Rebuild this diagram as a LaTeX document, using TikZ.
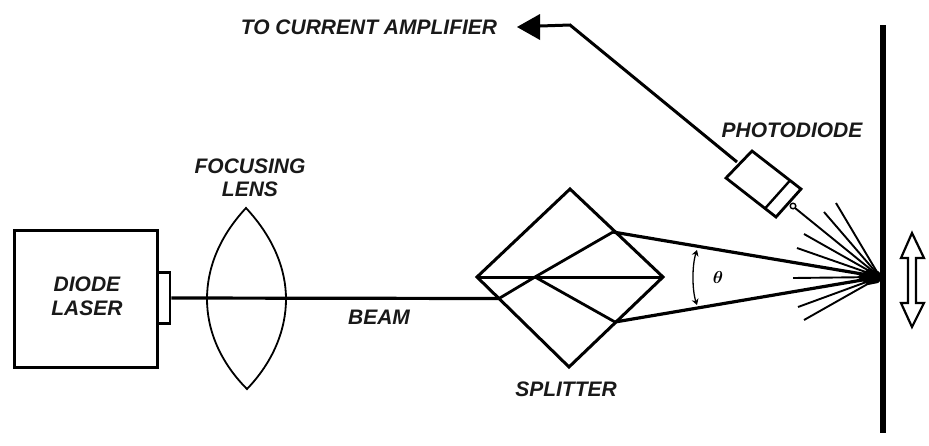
\documentclass[tikz,border=0pt]{standalone}
\usepackage{amsmath}
\usepackage{fontspec}
\setmainfont{Liberation Sans}
\usetikzlibrary{arrows.meta}
\tikzset{
  lbl/.style={font=\fontsize{21}{21}\selectfont\bfseries\itshape,align=center,inner sep=0pt,text=black!90},
  heavy/.style={line width=3pt,line join=miter},
  beamline/.style={line width=3.2pt},
  thin ray/.style={line width=1.9pt},
  lensline/.style={line width=1.8pt},
  tick/.style={line width=1.3pt,{Stealth[length=6pt,width=7pt]}-{Stealth[length=6pt,width=7pt]}}
}
\begin{document}
\begin{tikzpicture}[x=1pt,y=-1pt]
\useasboundingbox (0,0) rectangle (929,445);
% coordinates
\coordinate (hub) at (880,277);
\coordinate (spl) at (477,277);
\coordinate (spt) at (570,189);
\coordinate (spr) at (663,277);
\coordinate (spb) at (569,367);
\coordinate (entry) at (499,298.5);
\coordinate (cross) at (535,277);
\coordinate (outA) at (613,232);
\coordinate (outB) at (615,322);
% laser
\node[draw,heavy,minimum width=143pt,minimum height=137pt,inner sep=0pt] (laser) at (85.5,298.5) {};
\node[draw,line width=2.6pt,minimum width=13pt,minimum height=51pt,inner sep=0pt] (aperture) at (163.5,298) {};
\node[lbl] at (87,296) {DIODE\\[3pt]LASER};
% lens
\coordinate (lt) at (246,208);
\coordinate (lb) at (247,389);
\draw[lensline] (lt) .. controls (218,238) and (207,270) .. (207,299) .. controls (207,330) and (220,362) .. (lb)
  .. controls (273,362) and (286,330) .. (286,299) .. controls (286,270) and (274,238) .. (lt) -- cycle;
\node[lbl] at (250,178) {FOCUSING\\[2pt]LENS};
% beam
\draw[beamline] (aperture.east) -- (entry);
\node[lbl] at (379,317) {BEAM};
% splitter
\draw[line width=3pt,line join=miter] (spl) -- (spt) -- (spr) -- (spb) -- cycle;
\draw[line width=3pt] (spl) -- (spr);
\draw[line width=2.8pt] (entry) -- (cross) -- (outA);
\draw[line width=2.8pt] (cross) -- (outB);
\node[lbl] at (566,389) {SPLITTER};
% beams to mirror
\draw[beamline] (outA) -- (hub);
\draw[beamline] (outB) -- (hub);
% scatter rays
\foreach \n/\p in {a/{836,203},b/{824,212},c/{804,234},d/{797,248},e/{793,278},f/{798,307},g/{804,320}}{
  \coordinate (r\n) at (\p);
  \draw[thin ray] (r\n) -- (hub);
}
\coordinate (rp) at (795,208);
\draw[thin ray] (rp) -- (hub);
\fill (857,277) -- (868,269) -- (878,271) -- (884,277) -- (878,283) -- (868,285) -- cycle;
% mirror
\coordinate (mt) at (883,25);
\coordinate (mb) at (883,433);
\draw[line width=5.5pt] (mt) -- (mb);
% photodiode
\coordinate (pa) at (752,151);
\coordinate (pb) at (801,189);
\coordinate (pc) at (776,217);
\coordinate (pd) at (726,178);
\draw[line width=2.8pt,line join=miter] (pa) -- (pb) -- (pc) -- (pd) -- cycle;
\coordinate (ba) at (790,180.5);
\coordinate (bb) at (765,208.5);
\draw[line width=2.4pt] (ba) -- (bb);
\draw[line width=1.4pt] (793,206) circle (2.8pt);
\node[lbl] at (792,130) {PHOTODIODE};
% wire and arrow
\coordinate (wa) at (737,162);
\coordinate (wb) at (570,25);
\coordinate (tip) at (517,27);
\draw[line width=3pt,line join=miter] (wa) -- (wb) -- (540,26);
\fill (tip) -- (540,14) -- (540,40) -- cycle;
\node[lbl] at (369,27) {TO CURRENT AMPLIFIER};
% angle
\coordinate (aa) at (697,250);
\coordinate (ab) at (697,305);
\draw[tick] (aa) .. controls (692,265) and (692,290) .. (ab);
\node[inner sep=0pt,font=\fontsize{19}{19}\selectfont] at (718,277) {$\boldsymbol{\theta}$};
% double arrow
\draw[line width=2.2pt,line join=miter,fill=white] (912,233) -- (924,258) -- (916,258) -- (916,303) -- (924,303) -- (912,327) -- (901,303) -- (908,303) -- (908,258) -- (901,258) -- cycle;
\end{tikzpicture}
\end{document}
